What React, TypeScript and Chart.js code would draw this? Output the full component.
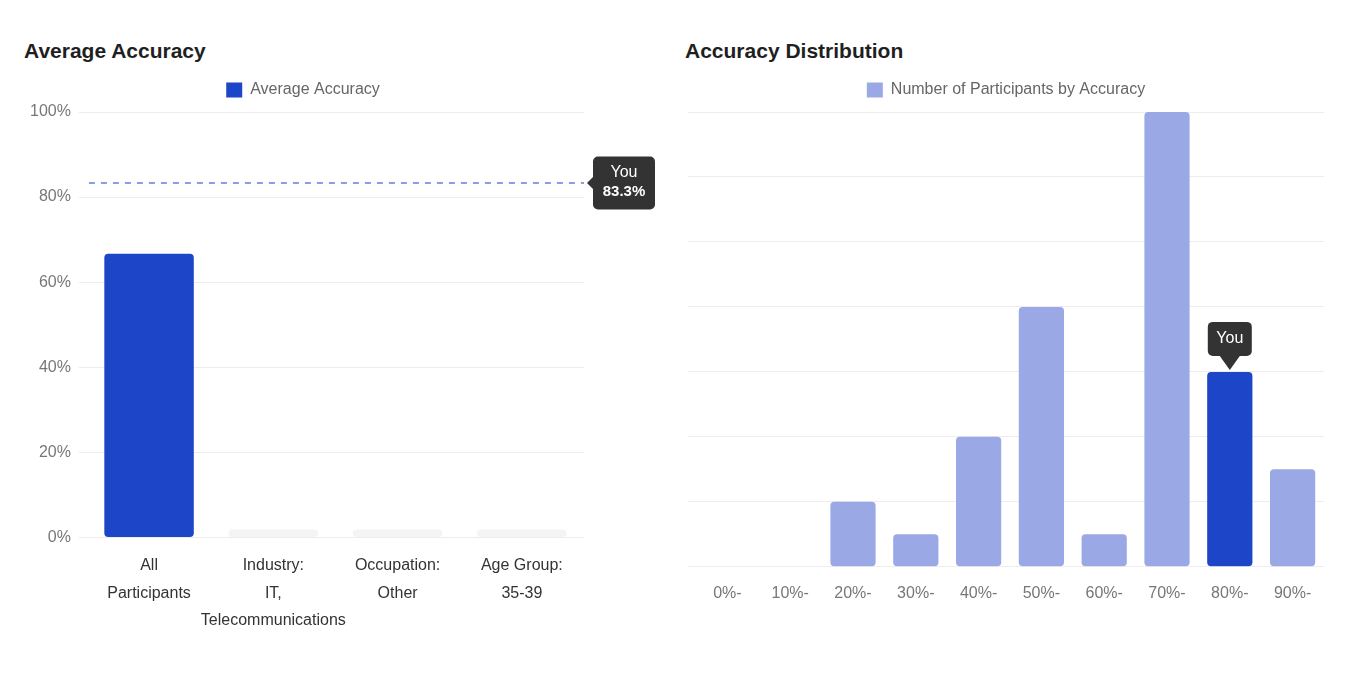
import React, { useEffect, useRef } from "react";
import { Chart, registerables, Plugin, ScriptableContext } from "chart.js";

Chart.register(...registerables);

// Average accuracy by group (percent)
const avgLabels: string[][] = [
    ["All", "Participants"],
    ["Industry:", "IT,", "Telecommunications"],
    ["Occupation:", "Other"],
    ["Age Group:", "35-39"]
];
const avgValues = [66.7, 0, 0, 0];
const yourAccuracy = 83.3;

// Participants per accuracy bucket
const distLabels = ["0%-", "10%-", "20%-", "30%-", "40%-", "50%-", "60%-", "70%-", "80%-", "90%-"];
const distCounts = [0, 0, 2, 1, 4, 8, 1, 14, 6, 3];
const yourBucket = "80%-";

const BLUE = "#1d45c7";
const LIGHT = "#9ba8e6";
const EMPTY = "#f4f4f4";
const GRID = "#ededed";
const CALLOUT = "#333333";
const FONT = "'Helvetica Neue', Helvetica, Arial, sans-serif";

// extra room between the legend and the plot
const legendGap: Plugin<"bar"> = {
    id: "legendGap",
    afterInit: (chart) => {
        const legend = chart.legend as any;
        if (!legend) return;
        const fit = legend.fit;
        legend.fit = function () {
            fit.call(this);
            this.height += 4;
        };
    }
};

// dashed "You" line with a callout on the right of the plot
const youLinePlugin: Plugin<"bar"> = {
    id: "youLine",
    afterDatasetsDraw: (chart) => {
        const { ctx, chartArea, scales } = chart;
        const y = scales.y.getPixelForValue(yourAccuracy);
        ctx.save();
        ctx.strokeStyle = "#8e9de3";
        ctx.lineWidth = 2;
        ctx.setLineDash([6, 6]);
        ctx.beginPath();
        ctx.moveTo(chartArea.left + 2, y);
        ctx.lineTo(chartArea.right, y);
        ctx.stroke();

        const bx = chartArea.right + 9;
        const bw = 62;
        const bh = 53;
        ctx.setLineDash([]);
        ctx.fillStyle = CALLOUT;
        ctx.beginPath();
        ctx.roundRect(bx, y - bh / 2, bw, bh, 5);
        ctx.fill();
        ctx.beginPath();
        ctx.moveTo(bx, y - 6);
        ctx.lineTo(bx - 6, y);
        ctx.lineTo(bx, y + 6);
        ctx.closePath();
        ctx.fill();

        ctx.fillStyle = "#fff";
        ctx.textAlign = "center";
        ctx.textBaseline = "middle";
        ctx.font = `16px ${FONT}`;
        ctx.fillText("You", bx + bw / 2, y - 10);
        ctx.font = `bold 15px ${FONT}`;
        ctx.fillText(`${yourAccuracy}%`, bx + bw / 2, y + 9);
        ctx.restore();
    }
};

// "You" callout above your bucket
const youBarPlugin: Plugin<"bar"> = {
    id: "youBar",
    afterDatasetsDraw: (chart) => {
        const idx = distLabels.indexOf(yourBucket);
        const el = chart.getDatasetMeta(0).data[idx];
        if (!el) return;
        const { ctx } = chart;
        const x = el.x;
        const tip = el.y - 2;
        const bw = 44;
        const bh = 34;
        const by = tip - 14 - bh;
        ctx.save();
        ctx.fillStyle = CALLOUT;
        ctx.beginPath();
        ctx.roundRect(x - bw / 2, by, bw, bh, 5);
        ctx.fill();
        ctx.beginPath();
        ctx.moveTo(x - 10, by + bh);
        ctx.lineTo(x + 10, by + bh);
        ctx.lineTo(x, tip);
        ctx.closePath();
        ctx.fill();
        ctx.fillStyle = "#fff";
        ctx.textAlign = "center";
        ctx.textBaseline = "middle";
        ctx.font = `16px ${FONT}`;
        ctx.fillText("You", x, by + bh / 2);
        ctx.restore();
    }
};

const titleStyle: React.CSSProperties = {
    font: `bold 21px ${FONT}`,
    color: "#1f1f1f",
    lineHeight: "24px",
    height: 24,
    marginTop: 31,
    marginBottom: 9,
    paddingLeft: 16
};

const legendLabels = { boxWidth: 16, boxHeight: 15, color: "#666", font: { size: 16 } };

const AverageAccuracyChart: React.FC = () => {
    const canvasRef = useRef<HTMLCanvasElement | null>(null);

    useEffect(() => {
        if (!canvasRef.current) return;
        const chart = new Chart(canvasRef.current, {
            type: "bar",
            data: {
                labels: avgLabels,
                datasets: [
                    {
                        label: "Average Accuracy",
                        data: avgValues,
                        backgroundColor: (c: ScriptableContext<"bar">) =>
                            c.type === "data" && avgValues[c.dataIndex] === 0 ? EMPTY : BLUE,
                        borderRadius: 4,
                        borderSkipped: false,
                        minBarLength: 8
                    }
                ]
            },
            options: {
                animation: false,
                responsive: true,
                maintainAspectRatio: false,
                events: [],
                layout: { padding: { left: 14, right: 85 } },
                plugins: {
                    tooltip: { enabled: false },
                    legend: { position: "top", labels: legendLabels }
                },
                scales: {
                    x: {
                        grid: { display: false },
                        border: { display: false },
                        ticks: {
                            autoSkip: false,
                            maxRotation: 0,
                            minRotation: 0,
                            padding: 7,
                            color: "#333",
                            font: { size: 16, lineHeight: 1.7 }
                        }
                    },
                    y: {
                        min: 0,
                        max: 100,
                        grid: { color: GRID },
                        border: { display: false },
                        ticks: {
                            stepSize: 20,
                            padding: 8,
                            color: "#777",
                            font: { size: 16 },
                            callback: (v) => `${v}%`
                        }
                    }
                }
            },
            plugins: [legendGap, youLinePlugin]
        });
        return () => chart.destroy();
    }, []);

    return (
        <div style={{ width: 661 }}>
            <div style={titleStyle}>Average Accuracy</div>
            <div style={{ position: "relative", width: 661, height: 569 }}>
                <canvas ref={canvasRef}></canvas>
            </div>
        </div>
    );
};

const DistributionChart: React.FC = () => {
    const canvasRef = useRef<HTMLCanvasElement | null>(null);

    useEffect(() => {
        if (!canvasRef.current) return;
        const youIdx = distLabels.indexOf(yourBucket);
        const chart = new Chart(canvasRef.current, {
            type: "bar",
            data: {
                labels: distLabels,
                datasets: [
                    {
                        label: "Number of Participants by Accuracy",
                        data: distCounts,
                        backgroundColor: (c: ScriptableContext<"bar">) =>
                            c.type === "data" && c.dataIndex === youIdx ? BLUE : LIGHT,
                        borderRadius: 4,
                        borderSkipped: false
                    }
                ]
            },
            options: {
                animation: false,
                responsive: true,
                maintainAspectRatio: false,
                events: [],
                layout: { padding: { left: 19, right: 24 } },
                plugins: {
                    tooltip: { enabled: false },
                    legend: { position: "top", labels: legendLabels }
                },
                scales: {
                    x: {
                        grid: { display: false },
                        border: { display: false },
                        ticks: { padding: 5, color: "#777", font: { size: 16, lineHeight: 1.7 } }
                    },
                    y: {
                        min: 0,
                        max: 14,
                        grid: { color: GRID },
                        border: { display: false },
                        ticks: { display: false, stepSize: 2 }
                    }
                }
            },
            plugins: [legendGap, youBarPlugin]
        });
        return () => chart.destroy();
    }, []);

    return (
        <div style={{ width: 679 }}>
            <div style={titleStyle}>Accuracy Distribution</div>
            <div style={{ position: "relative", width: 679, height: 540 }}>
                <canvas ref={canvasRef}></canvas>
            </div>
        </div>
    );
};

export default function App() {
    return (
        <div style={{ display: "flex", background: "#fff" }}>
            <AverageAccuracyChart />
            <DistributionChart />
        </div>
    );
}
